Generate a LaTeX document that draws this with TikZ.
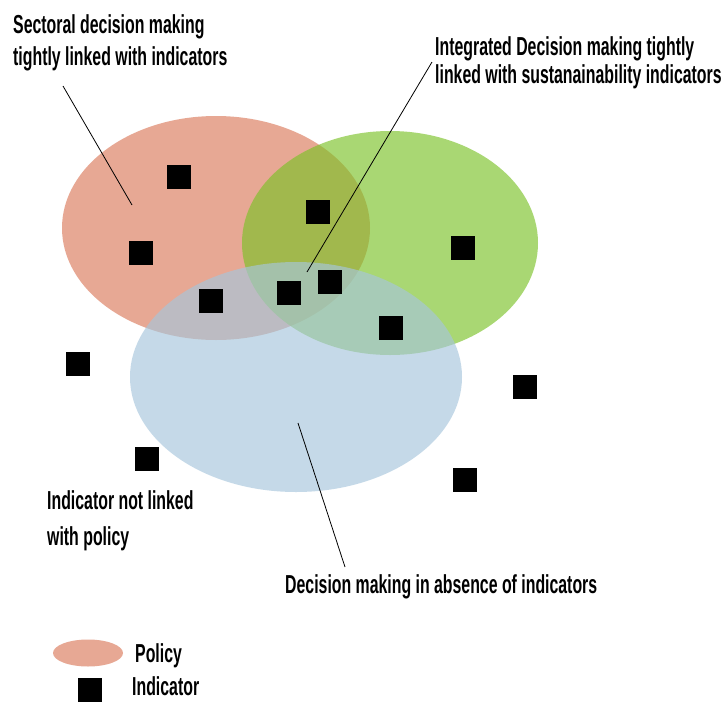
\documentclass[tikz,border=0pt]{standalone}
\usepackage{fontspec}
\newfontfamily\lblfont{Liberation Sans}[FakeStretch=0.61]
\usetikzlibrary{shapes.geometric}
\definecolor{policyred}{RGB}{231,168,148}
\definecolor{policygreen}{RGB}{124,194,40}
\definecolor{policyblue}{RGB}{166,198,220}
\begin{document}
\begin{tikzpicture}[x=1pt,y=-1pt,
  lbl/.style={anchor=base west, align=left, inner sep=0pt,
    font={\lblfont\bfseries\fontsize{26}{#1}\selectfont}},
  lbl/.default=32,
  policy/.style={ellipse, inner sep=0pt, draw=none},
  ind/.style={fill=black, minimum size=24pt, inner sep=0pt},
  leader/.style={line width=0.8pt, black}]
  \useasboundingbox (0,0) rectangle (721,702);
  \fill[white] (0,0) rectangle (721,702);

  % policy areas
  \node[policy, fill=policyred, minimum width=308pt, minimum height=224pt] (sector) at (216,228) {};
  \node[policy, fill=policygreen, fill opacity=0.65, minimum width=296pt, minimum height=224pt] (sustain) at (390,243) {};
  \node[policy, fill=policyblue, fill opacity=0.65, minimum width=332pt, minimum height=230pt] (general) at (296,377) {};

  % indicators
  \node[ind] (i1) at (179,177) {};
  \node[ind] (i2) at (141,253) {};
  \node[ind] (i3) at (318,212) {};
  \node[ind] (i4) at (211,301) {};
  \node[ind] (i5) at (289,293) {};
  \node[ind] (i6) at (330,282) {};
  \node[ind] (i7) at (391,328) {};
  \node[ind] (i8) at (463,248) {};
  \node[ind] (i9) at (78,364) {};
  \node[ind] (i10) at (525,387) {};
  \node[ind] (i11) at (147,459) {};
  \node[ind] (i12) at (465,480) {};

  % labels (base anchor sits on the last line of a two-line label)
  \node[lbl=32] (tsect) at (13,65) {Sectoral decision making\\tightly linked with indicators};
  \node[lbl=28] (tinteg) at (435,83) {Integrated Decision making tightly\\linked with sustanainability indicators};
  \node[lbl=36] (tfree) at (47,545) {Indicator not linked\\with policy};
  \node[lbl] (tabsent) at (285,593) {Decision making in absence of indicators};

  % leader lines
  \coordinate (sectA) at (63,86);
  \coordinate (sectB) at (132,205);
  \coordinate (integA) at (432,62);
  \coordinate (integB) at (307,272);
  \coordinate (absA) at (298,423);
  \coordinate (absB) at (345,567);
  \draw[leader] (sectA) -- (sectB);
  \draw[leader] (integA) -- (integB);
  \draw[leader] (absA) -- (absB);

  % legend
  \node[policy, fill=policyred, minimum width=70pt, minimum height=27pt] (keypolicy) at (88,653) {};
  \node[ind] (keyind) at (90,690) {};
  \node[lbl] (tkeypolicy) at (135,662) {Policy};
  \node[lbl] (tkeyind) at (132,695) {Indicator};
\end{tikzpicture}
\end{document}
